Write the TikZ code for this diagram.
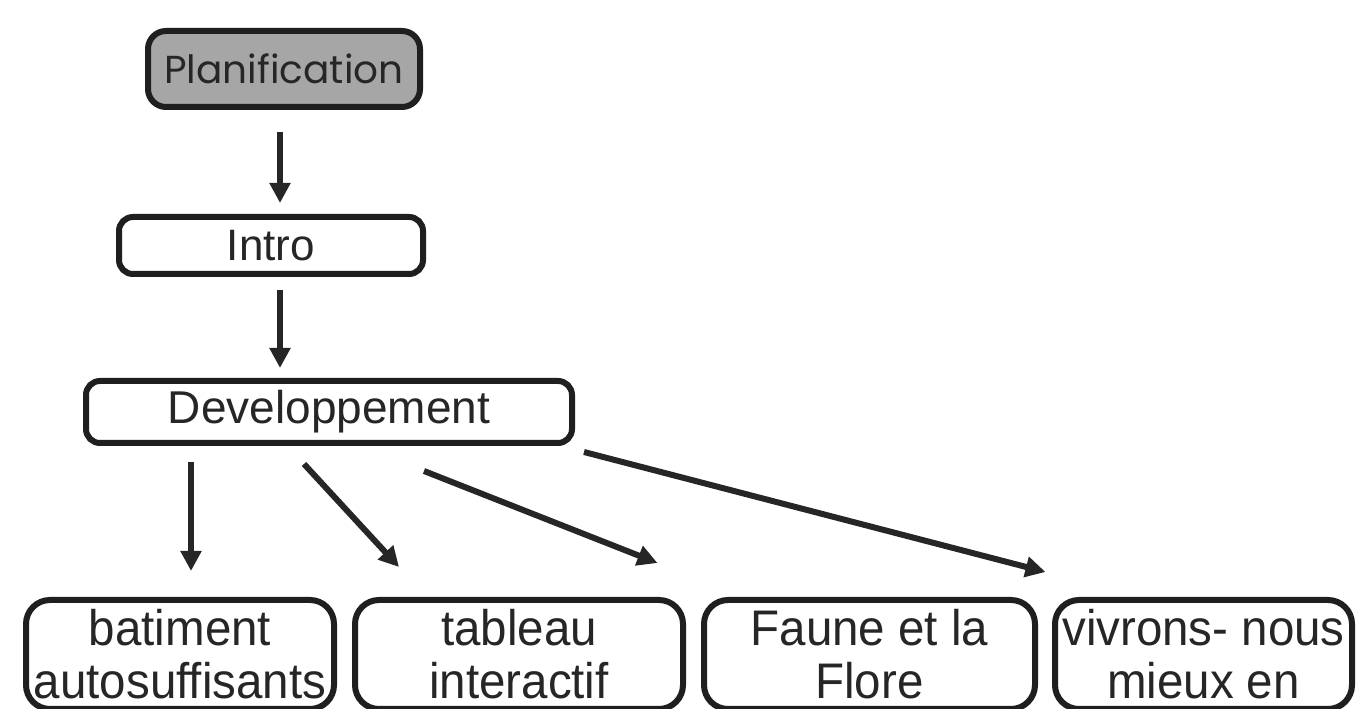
\documentclass[tikz,border=0pt]{standalone}
\usepackage{fontspec}
\setmainfont{Liberation Sans}
\newfontfamily\narrowsans{Liberation Sans}[FakeStretch=0.95]
\newfontfamily\roundsans{Poppins}
\usepackage{tikz}
\usetikzlibrary{positioning, arrows.meta}

\tikzset{
	box/.style={draw=black!88, line width=6pt, rounded corners=14pt, text=black!85, inner sep=0pt},
	plan/.style={box, fill=gray!70, rounded corners=18pt, minimum width=272pt, minimum height=76pt, font=\roundsans\fontsize{39}{42}\selectfont},
	step1/.style={box, minimum width=304pt, minimum height=57pt, font=\fontsize{44}{46}\selectfont},
	step2/.style={box, minimum width=486pt, minimum height=62pt, font=\fontsize{46}{48}\selectfont},
	leaf/.style={box, rounded corners=24pt, minimum height=109pt, align=center, font=\narrowsans\fontsize{50}{53}\selectfont},
	arr/.style={draw=black!85, line width=6pt, -{Triangle[length=20pt,width=20pt]}}
}

\begin{document}
\begin{tikzpicture}[x=1pt, y=1pt]
					\clip (0,0) rectangle (1360,709);
					\fill[white] (0,0) rectangle (1360,709);

					\node[plan] (plan) at (284,640) {Planification};
					\node[step1, below=104pt of plan, xshift=-13pt] (intro) {Intro};
					\node[step2, below=101pt of intro, xshift=58pt] (dev) {Developpement};

					\node[leaf, minimum width=308pt, below=151pt of dev, xshift=-149pt] (bat) {batiment\\autosuffisants};
					\node[leaf, minimum width=328pt, right=15pt of bat] (tab) {tableau\\interactif};
					\node[leaf, minimum width=331pt, right=15pt of tab] (faune) {Faune et la\\Flore};
					\node[leaf, minimum width=297pt, right=14pt of faune] (viv) {vivrons- nous\\mieux en};

					\draw[arr, shorten <=22pt, shorten >=11pt] ([xshift=-4pt]plan.south) -- ([xshift=9pt]intro.north);
					\draw[arr, shorten <=13pt, shorten >=10pt] ([xshift=9pt]intro.south) -- ([xshift=-49pt]dev.north);

					\draw[arr] ([shift={(-138,-16)}]dev.south) -- ([shift={(11,26)}]bat.north);
					\draw[arr] ([shift={(-25,-18)}]dev.south) -- ([shift={(-120,30)}]tab.north);
					\draw[arr] ([shift={(95,-25)}]dev.south) -- ([shift={(-212,34)}]faune.north);
					\draw[arr] ([shift={(255,-6)}]dev.south) -- ([shift={(-158,25)}]viv.north);
				\end{tikzpicture}
\end{document}
